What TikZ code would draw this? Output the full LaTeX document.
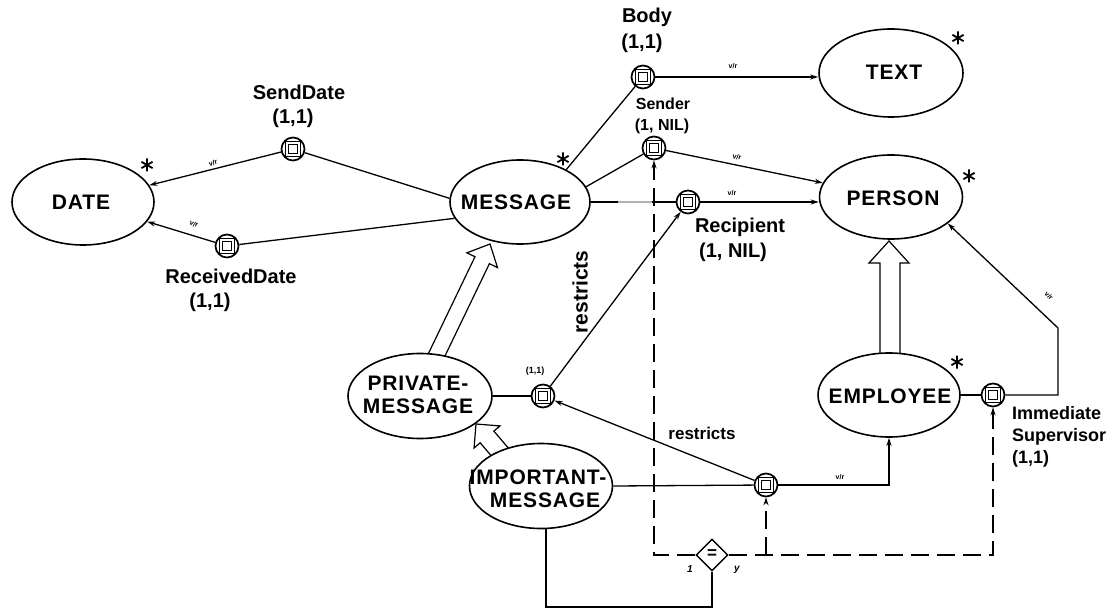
\documentclass[tikz,border=0pt]{standalone}
\usepackage{fontspec}
\setmainfont{Liberation Sans}
\usetikzlibrary{shapes.geometric,arrows.meta}
\begin{document}
\begin{tikzpicture}[x=1pt,y=-1pt,
  ent/.style={ellipse,draw,fill=white,line width=1.6pt,inner sep=0pt},
  etxt/.style={font=\fontsize{21}{23.5}\selectfont\bfseries\addfontfeature{LetterSpace=4},align=center,inner sep=0pt},
  lbl/.style={font=\fontsize{20}{22}\selectfont\bfseries,inner sep=0pt},
  slbl/.style={font=\fontsize{16}{18}\selectfont\bfseries,inner sep=0pt},
  attr/.style={circle,draw,fill=white,line width=1.7pt,minimum size=23pt,inner sep=0pt,
    path picture={
      \draw[line width=1.7pt] ([shift={(-7.5pt,-7.5pt)}]path picture bounding box.center) rectangle ([shift={(7.5pt,7.5pt)}]path picture bounding box.center);
      \draw[line width=1pt] ([shift={(-4.3pt,-4.3pt)}]path picture bounding box.center) rectangle ([shift={(4.3pt,4.3pt)}]path picture bounding box.center);}},
  conn/.style={line width=1.3pt},
  arr/.style={line width=1.3pt,-{Stealth[length=8pt,width=5pt]}},
  vr/.style={font=\fontsize{7}{7}\selectfont\bfseries,inner sep=0pt},
  dsh/.style={line width=1.5pt,dash pattern=on 18pt off 8pt},
  hollow/.style={draw,fill=white,line width=1.2pt,line join=miter},
  astk/.pic={\draw[line width=1.8pt] (0,-6.5)--(0,6.5) (-5.6,-3.2)--(5.6,3.2) (-5.6,3.2)--(5.6,-3.2);}
]
\fill[white] (0,0) rectangle (1110,609);
\useasboundingbox (0,0) rectangle (1110,609);

% hollow (is-a) arrows, drawn first so the ellipses cover their feet
\draw[hollow] (880,360) -- (880,263) -- (869,263) -- (889,241) -- (909,263) -- (900,263) -- (900,360) -- cycle;
\begin{scope}[shift={(490,244)},rotate=-115.7]
  \draw[hollow] (0,0) -- (18,17) -- (18,8) -- (132,8) -- (132,-8) -- (18,-8) -- (18,-17) -- cycle;
\end{scope}
\begin{scope}[shift={(476,424)},rotate=-49.6]
  \draw[hollow] (0,0) -- (17,17) -- (17,9) -- (48,9) -- (48,-9) -- (17,-9) -- (17,-17) -- cycle;
\end{scope}

% entities
\node[ent,minimum width=142pt,minimum height=86pt] (date) at (83,202) {};
\node[etxt] at (81,202) {DATE};
\node[ent,minimum width=140pt,minimum height=84pt] (msg) at (520,202) {};
\node[etxt] at (516,202) {MESSAGE};
\node[ent,minimum width=144pt,minimum height=88pt] (text) at (891,73) {};
\node[etxt] at (894,72) {TEXT};
\node[ent,minimum width=143pt,minimum height=84pt] (person) at (891,197) {};
\node[etxt] at (893,198) {PERSON};
\node[ent,minimum width=142pt,minimum height=84pt] (emp) at (889,395) {};
\node[etxt] at (890,396) {EMPLOYEE};
\node[ent,minimum width=144pt,minimum height=85pt] (priv) at (420,396) {};
\node[etxt] at (418,395) {PRIVATE-\\MESSAGE};
\node[ent,minimum width=143pt,minimum height=85pt] (impt) at (541,486) {};
\node[etxt] at (538,489) {IMPORTANT-\\\hspace*{14pt}MESSAGE};

\pic at (147,165) {astk};
\pic at (563,159) {astk};
\pic at (958,38) {astk};
\pic at (969,176) {astk};
\pic at (957,362) {astk};

% attribute markers
\node[attr] (sd) at (293,149) {};
\node[attr] (rd) at (227,246) {};
\node[attr] (body) at (643,77) {};
\node[attr] (snd) at (654,148) {};
\node[attr] (rcp) at (688,202) {};
\node[attr] (pm) at (543,396) {};
\node[attr] (lo) at (766,485) {};
\node[attr] (isup) at (993,395) {};

% constraint diamond
\node[diamond,draw,fill=white,line width=1.4pt,minimum size=32pt,inner sep=0pt] (eq) at (712,555) {};
\node[font=\fontsize{17}{17}\selectfont\bfseries,inner sep=0pt] at (712,554) {=};
\node[font=\fontsize{10}{10}\selectfont\bfseries\itshape,inner sep=0pt] at (690,569) {1};
\node[font=\fontsize{10}{10}\selectfont\bfseries\itshape,inner sep=0pt] at (737,570) {y};

% attribute labels
\node[lbl] at (299,92) {SendDate};
\node[lbl] at (293,118) {(1,1)};
\node[lbl] at (231,276) {ReceivedDate};
\node[lbl] at (210,302) {(1,1)};
\node[lbl] at (647,17) {Body};
\node[lbl] at (642,43) {(1,1)};
\node[slbl] at (663,104) {Sender};
\node[slbl] at (662,126) {(1, NIL)};
\node[lbl] at (740,227) {Recipient};
\node[lbl] at (733,252) {(1, NIL)};
\node[font=\fontsize{18}{22}\selectfont\bfseries,inner sep=0pt,align=left,anchor=west] at (1012,437) {Immediate\\Supervisor\\(1,1)};
\node[font=\fontsize{9}{9}\selectfont\bfseries,inner sep=0pt] at (535,371) {(1,1)};

% connectors
\draw[arr] (sd) -- (date);
\draw[conn] (sd) -- (msg.177);
\draw[arr] (rd) -- (date);
\draw[conn] (rd) -- (msg.194);
\draw[conn] (msg.35) -- (body);
\draw[arr] (body) -- (body -| text.west);
\draw[conn] (msg.13) -- (snd);
\draw[arr] (snd) -- (person);
\draw[conn] (msg.east) -- (rcp);
\draw[gray!60,line width=1.5pt] (618,202) -- (652,202);
\draw[arr] (rcp) -- (rcp -| person.west);
\draw[conn] (priv.east) -- (pm);
\draw[arr] (pm) -- (rcp);
\draw[arr] (lo) -- (pm);
\draw[conn] (impt.east) -- (lo);
\coordinate (lc) at (lo -| emp.south);
\draw[arr] (lo) -- (lc) -- (emp.south);
\draw[conn] (emp.east) -- (isup);
\coordinate (s1) at (1058,395);
\coordinate (s2) at (1058,328);
\draw[arr] (isup) -- (s1) -- (s2) -- (person.-25);

% dashed constraint paths
\draw[dsh,-{Stealth[length=8pt,width=5pt]}] (eq.west) -- (snd |- eq) -- (snd.south);
\draw[dsh,-{Stealth[length=8pt,width=5pt]}] (eq.east) -- (isup |- eq) -- (isup.south);
\draw[dsh,-{Stealth[length=8pt,width=5pt]}] (lo |- eq) -- (lo.south);
\coordinate (b1) at (712,607);
\coordinate (b2) at (546,607);
\draw[conn] (eq.south) -- (b1) -- (b2) -- (b2 |- impt.south);

% v/r labels
\node[vr,rotate=15] at (213,163) {v/r};
\node[vr,rotate=-22] at (194,224) {v/r};
\node[vr] at (733,66) {v/r};
\node[vr,rotate=-11] at (737,157) {v/r};
\node[vr] at (732,193) {v/r};
\node[vr] at (840,477) {v/r};
\node[vr,rotate=-45] at (1049,296) {v/r};

% restricts labels
\node[font=\fontsize{21}{21}\selectfont\bfseries,inner sep=0pt,rotate=90] at (580,292) {restricts};
\node[font=\fontsize{17}{17}\selectfont\bfseries,inner sep=0pt] at (702,433) {restricts};
\end{tikzpicture}
\end{document}
